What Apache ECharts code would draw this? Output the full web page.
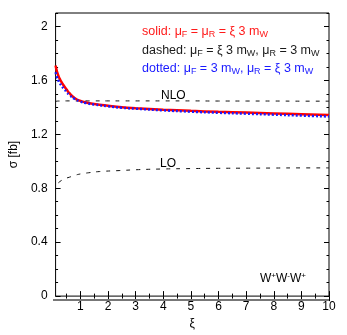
<!DOCTYPE html>
<html><head><meta charset="utf-8">
<script src="https://cdn.jsdelivr.net/npm/echarts@6/dist/echarts.min.js"></script>
<style>html,body{margin:0;padding:0;background:#fff}#c{width:347px;height:335px}</style>
</head><body><div id="c"></div>
<script>
const xi = [0.1, 0.15, 0.2, 0.25, 0.3, 0.4, 0.5, 0.6, 0.8, 1.0, 1.2, 1.5, 2, 2.5, 3, 4, 5, 6, 7, 8, 9, 10];
const solid = [1.71, 1.665, 1.635, 1.612, 1.592, 1.56, 1.532, 1.505, 1.468, 1.448, 1.436, 1.425, 1.412, 1.401, 1.394, 1.383, 1.374, 1.367, 1.361, 1.355, 1.349, 1.343];
const dotted = [1.66, 1.625, 1.60, 1.58, 1.565, 1.538, 1.515, 1.492, 1.462, 1.443, 1.432, 1.421, 1.408, 1.397, 1.39, 1.378, 1.368, 1.36, 1.353, 1.346, 1.339, 1.332];
const nloDashed = [1.445, 1.446, 1.447, 1.447, 1.448, 1.448, 1.448, 1.448, 1.448, 1.448, 1.448, 1.448, 1.448, 1.448, 1.448, 1.448, 1.448, 1.447, 1.447, 1.447, 1.446, 1.446];
const xiLO = [0.2, 0.3, 0.45, 0.6, 0.8, 1.0, 1.3, 1.7, 2.4, 3.1, 4, 5, 6, 7, 8, 9, 10];
const lo = [0.84, 0.856, 0.872, 0.882, 0.896, 0.906, 0.915, 0.924, 0.931, 0.938, 0.943, 0.946, 0.948, 0.949, 0.950, 0.951, 0.951];
const xMajorTicks = [1, 2, 3, 4, 5, 6, 7, 8, 9, 10];
const xMinorTicks = [0.5, 1.5, 2.5, 3.5, 4.5, 5.5, 6.5, 7.5, 8.5, 9.5];
const yLabels = [0, 0.4, 0.8, 1.2, 1.6, 2];

const FONT = '"Liberation Sans", Arial, sans-serif';
const pair = (xs, ys) => xs.map((x, i) => [x, ys[i]]);

const baseX = {type: 'value', min: 0.1, max: 10, splitLine: {show: false}, axisLine: {show: false}};
const xAxes = [
  Object.assign({}, baseX, {position: 'bottom', axisTick: {inside: true, length: 5, customValues: xMajorTicks, lineStyle: {color: '#000'}},
    axisLabel: {customValues: xMajorTicks, color: '#000', fontSize: 12, fontFamily: FONT, margin: 5},
    name: 'ξ', nameLocation: 'middle', nameGap: 19, nameTextStyle: {color: '#000', fontSize: 12, fontFamily: FONT}}),
  Object.assign({}, baseX, {position: 'bottom', axisTick: {inside: true, length: 2.5, customValues: xMinorTicks, lineStyle: {color: '#000'}}, axisLabel: {show: false}}),
  Object.assign({}, baseX, {position: 'top', axisTick: {inside: true, length: 5, customValues: xMajorTicks, lineStyle: {color: '#000'}}, axisLabel: {show: false}}),
  Object.assign({}, baseX, {position: 'top', axisTick: {inside: true, length: 2.5, customValues: xMinorTicks, lineStyle: {color: '#000'}}, axisLabel: {show: false}})
];
const baseY = {type: 'value', min: 0, max: 2.1, splitLine: {show: false}, axisLine: {show: false}};
const yAxes = [
  Object.assign({}, baseY, {position: 'left', interval: 0.4,
    axisTick: {inside: true, length: 5, customValues: yLabels, lineStyle: {color: '#000'}},
    axisLabel: {customValues: yLabels, color: '#000', fontSize: 12, fontFamily: FONT, margin: 8},
    name: 'σ [fb]', nameLocation: 'middle', nameGap: 31, nameRotate: 90, nameTextStyle: {color: '#000', fontSize: 12, fontFamily: FONT}}),
  Object.assign({}, baseY, {position: 'left', interval: 0.1, axisTick: {inside: true, length: 2.5, lineStyle: {color: '#000'}}, axisLabel: {show: false}}),
  Object.assign({}, baseY, {position: 'right', interval: 0.4, axisTick: {inside: true, length: 5, customValues: yLabels, lineStyle: {color: '#000'}}, axisLabel: {show: false}}),
  Object.assign({}, baseY, {position: 'right', interval: 0.1, axisTick: {inside: true, length: 2.5, lineStyle: {color: '#000'}}, axisLabel: {show: false}})
];

const richBase = (color, fs) => ({
  t: {fontSize: fs, fontFamily: FONT, fill: color, lineHeight: 14},
  s: {fontSize: 9, fontFamily: FONT, fill: color, padding: [7, 0, 0, 0], verticalAlign: 'bottom'},
  u: {fontSize: 8, fontFamily: FONT, fill: color, padding: [0, 0, 6, 0], verticalAlign: 'top'}
});

const chart = echarts.init(document.getElementById('c'), null, {renderer: 'canvas'});
chart.setOption({
  animation: false,
  grid: {left: 53, right: 18, top: 13, bottom: 35, show: true, borderColor: '#000', borderWidth: 1, backgroundColor: 'transparent'},
  xAxis: xAxes,
  yAxis: yAxes,
  series: [
    {type: 'line', name: 'NLO dashed', data: pair(xi, nloDashed), showSymbol: false, smooth: true, lineStyle: {color: '#111', width: 1, type: [4, 6]}, z: 2},
    {type: 'line', name: 'LO', data: pair(xiLO, lo), showSymbol: false, smooth: true, lineStyle: {color: '#111', width: 1, type: [4, 6]}, z: 2},
    {type: 'line', name: 'solid', data: pair(xi, solid), showSymbol: false, smooth: true, lineStyle: {color: '#ff0000', width: 2.5}, z: 3},
    {type: 'line', name: 'dotted', data: pair(xi, dotted), showSymbol: false, smooth: true, lineStyle: {color: '#1a1aff', width: 2.5, type: [2, 2]}, z: 4}
  ],
  graphic: [
    {type: 'rect', shape: {x: 53, y: 299, width: 276, height: 2}, style: {fill: '#777'}, z: 10},
    {type: 'text', left: 142, top: 25, style: {text: '{t|solid: μ}{s|F}{t| = μ}{s|R}{t| = ξ 3 m}{s|W}', rich: richBase('#ff1a1a', 12.5)}, z: 10},
    {type: 'text', left: 142, top: 44, style: {text: '{t|dashed: μ}{s|F}{t| = ξ 3 m}{s|W}{t|, μ}{s|R}{t| = 3 m}{s|W}', rich: richBase('#1a1a1a', 12.5)}, z: 10},
    {type: 'text', left: 142, top: 62, style: {text: '{t|dotted: μ}{s|F}{t| = 3 m}{s|W}{t|, μ}{s|R}{t| = ξ 3 m}{s|W}', rich: richBase('#1a1aff', 12.5)}, z: 10},
    {type: 'text', left: 161, top: 90, style: {text: 'NLO', fontSize: 12, fontFamily: FONT, fill: '#000'}, z: 10},
    {type: 'text', left: 160, top: 158, style: {text: 'LO', fontSize: 12, fontFamily: FONT, fill: '#000'}, z: 10},
    {type: 'text', left: 260, top: 272, style: {text: '{t|W}{u|+}{t|W}{u|-}{t|W}{u|+}', rich: richBase('#000', 12)}, z: 10}
  ]
});
</script></body></html>
